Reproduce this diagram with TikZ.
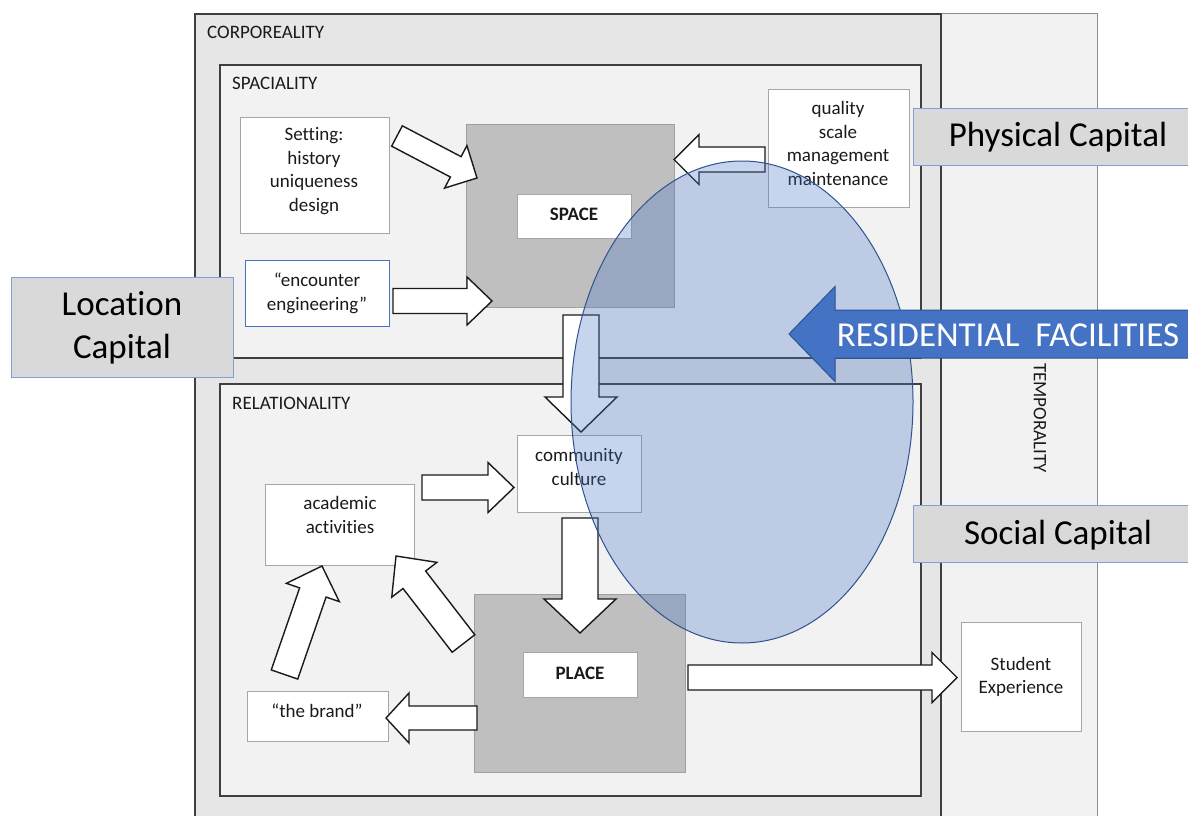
\documentclass[tikz,border=0pt]{standalone}
\usepackage{fontspec}
\setmainfont{Carlito}[Ligatures=NoCommon]
\usetikzlibrary{calc,shapes.geometric}

\definecolor{corpfill}{HTML}{E6E6E6}
\definecolor{panelfill}{HTML}{F2F2F2}
\definecolor{framegray}{HTML}{3F3F3F}
\definecolor{templine}{HTML}{8C8C8C}
\definecolor{boxline}{HTML}{A6A6A6}
\definecolor{hubfill}{HTML}{BFBFBF}
\definecolor{hubline}{HTML}{A0A0A0}
\definecolor{capfill}{HTML}{D9D9D9}
\definecolor{capline}{HTML}{7F9FD6}
\definecolor{accent}{HTML}{4472C4}
\definecolor{accentdark}{HTML}{2F528F}
\definecolor{ink}{HTML}{1A1A1A}

% block arrow from a tail point to a tip point:
% [extra style]{tail}{tip}{shaft half width}{head half width}{head length}
\newcommand\flowarrow[6][]{%
  \coordinate (fa-base) at ($(#3)!#6!(#2)$);
  \draw[blockarr,#1] ($(#2)!#4!90:(#3)$) -- ($(fa-base)!#4!90:(#3)$)
    -- ($(fa-base)!#5!90:(#3)$) -- (#3) -- ($(fa-base)!#5!-90:(#3)$)
    -- ($(fa-base)!#4!-90:(#3)$) -- ($(#2)!#4!-90:(#3)$) -- cycle;
}

\tikzset{
  area/.style={anchor=north west, inner sep=0pt, outer sep=0pt},
  frame/.style={area, draw=framegray, line width=1.3pt, fill=panelfill},
  whitebox/.style={area, draw=boxline, line width=1pt, fill=white},
  hub/.style={area, draw=hubline, line width=1pt, fill=hubfill},
  capbox/.style={area, draw=capline, line width=1pt, fill=capfill},
  txt/.style={inner sep=0pt, align=center, text=ink,
    font=\fontsize{19}{23.6}\selectfont},
  lbl/.style={inner sep=0pt, text=ink, font=\fontsize{19}{23}\selectfont},
  captxt/.style={inner sep=0pt, align=center, text=black,
    font=\fontsize{35}{43}\selectfont},
  blockarr/.style={draw=ink, line width=1.4pt, fill=white, line join=miter},
}

\begin{document}
\begin{tikzpicture}[x=1pt, y=-1pt]
\useasboundingbox (0,0) rectangle (1188,816);
\fill[white] (0,0) rectangle (1188,816);

% outer dimensions
\node[area, draw=templine, line width=1pt, fill=panelfill,
      minimum width=156pt, minimum height=816pt] (temporality) at (941,14) {};
\node[frame, fill=corpfill, minimum width=746pt, minimum height=816pt] (corporeality) at (195,14) {};
\node[lbl, anchor=west] (corporeality-t) at (207,32) {CORPOREALITY};
\node[lbl, rotate=-90] (temporality-t) at (1040,418) {TEMPORALITY};

% inner panels
\node[frame, minimum width=701pt, minimum height=293pt] (spaciality) at (220,65) {};
\node[lbl, anchor=west] (spaciality-t) at (232,83) {SPACIALITY};
\node[frame, minimum width=701pt, minimum height=412pt] (relationality) at (220,384) {};
\node[lbl, anchor=west] (relationality-t) at (232,403) {RELATIONALITY};

% spaciality content
\node[whitebox, minimum width=149pt, minimum height=116pt] (setting) at (240,117) {};
\node[txt] (setting-t) at (314,171) {Setting:\\history\\uniqueness\\design};
\node[whitebox, draw=accent, minimum width=144pt, minimum height=66pt] (encounter) at (245,260) {};
\node[txt] (encounter-t) at (317,293.5) {“encounter\\engineering”};
\node[whitebox, minimum width=141pt, minimum height=118pt] (quality) at (768,89) {};
\node[txt] (quality-t) at (838,143.5) {quality\\scale\\management\\maintenance};
\node[hub, minimum width=208pt, minimum height=183pt] (space) at (466,124) {};
\node[whitebox, minimum width=114pt, minimum height=44pt] (space-l) at (517,194) {};
\node[txt, font=\fontsize{19}{23}\bfseries] (space-t) at (574,214) {SPACE};

% relationality content
\node[whitebox, minimum width=124pt, minimum height=77pt] (community) at (517,435) {};
\node[txt] (community-t) at (579,467) {community\\culture};
\node[whitebox, minimum width=149pt, minimum height=81pt] (academic) at (265,484) {};
\node[txt] (academic-t) at (340,515) {academic\\activities};
\node[whitebox, minimum width=141pt, minimum height=50pt] (brand) at (247,691) {};
\node[txt] (brand-t) at (317,711) {“the brand”};
\node[hub, minimum width=211pt, minimum height=178pt] (place) at (474,594) {};
\node[whitebox, minimum width=114pt, minimum height=45pt] (place-l) at (523,652) {};
\node[txt, font=\fontsize{19}{23}\bfseries] (place-t) at (580,673) {PLACE};
\node[whitebox, minimum width=120pt, minimum height=109pt] (student) at (961,622) {};
\node[txt] (student-t) at (1021,677) {Student\\Experience};

% arrow end points
\coordinate (setting-out) at (397,136);   \coordinate (space-in1) at (477,178);
\coordinate (encounter-out) at (393,301); \coordinate (space-in2) at (492,301);
\coordinate (quality-out) at (765,159.5); \coordinate (space-in3) at (674,159.5);
\coordinate (space-out) at (581,315);     \coordinate (community-in) at (581,432);
\coordinate (community-out) at (580,518); \coordinate (place-in) at (580,633);
\coordinate (academic-out) at (422,487.5);\coordinate (community-in2) at (514,487.5);
\coordinate (brand-out) at (284.5,674.5); \coordinate (academic-in1) at (322,566);
\coordinate (place-out1) at (463.5,643.5);\coordinate (academic-in2) at (396,556);
\coordinate (place-out2) at (477,718);    \coordinate (brand-in) at (386,718);
\coordinate (place-out3) at (688,677.5);  \coordinate (student-in) at (957,677.5);

\flowarrow{setting-out}{space-in1}{11.5pt}{24pt}{24pt}
\flowarrow{encounter-out}{space-in2}{12.5pt}{24pt}{25pt}
\flowarrow{quality-out}{space-in3}{12.5pt}{25pt}{25pt}
\flowarrow{space-out}{community-in}{18pt}{36pt}{35pt}
\flowarrow{community-out}{place-in}{18pt}{36pt}{34pt}
\flowarrow{academic-out}{community-in2}{12.5pt}{25pt}{26pt}
\flowarrow{brand-out}{academic-in1}{14pt}{28pt}{28pt}
\flowarrow{place-out1}{academic-in2}{14.3pt}{28.5pt}{30pt}
\flowarrow{place-out2}{brand-in}{12pt}{25pt}{23pt}
\flowarrow{place-out3}{student-in}{12.5pt}{25pt}{25pt}

% capital labels
\node[capbox, minimum width=282pt, minimum height=57pt] (physical) at (913,108) {};
\node[captxt] (physical-t) at (1058,137.5) {Physical Capital};
\node[capbox, minimum width=282pt, minimum height=57pt] (social) at (913,505) {};
\node[captxt] (social-t) at (1058,535) {Social Capital};
\node[capbox, minimum width=222pt, minimum height=100pt] (location) at (11,277) {};
\node[captxt] (location-t) at (122,328) {Location\\Capital};

% residential facilities overlay
\node[ellipse, inner sep=0pt, minimum width=342pt, minimum height=482pt,
      fill=accent, fill opacity=0.3, draw=accentdark, line width=1pt] (residence) at (742,402) {};
\coordinate (res-out) at (1205,334); \coordinate (res-in) at (789,334);
\flowarrow[fill=accent, draw=accentdark, line width=1pt]{res-out}{res-in}{24pt}{47.5pt}{46pt}
\node[inner sep=0pt, text=white, font=\fontsize{35}{40}\selectfont] (res-t) at (1008,335) {RESIDENTIAL\ \ FACILITIES};
\end{tikzpicture}
\end{document}
